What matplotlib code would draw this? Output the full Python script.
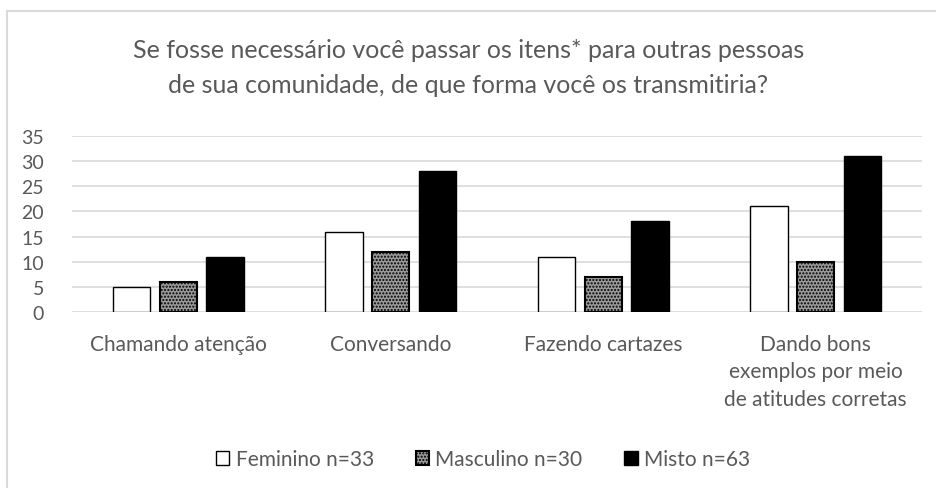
import numpy as np
import matplotlib.pyplot as plt
from matplotlib.patches import Rectangle

plt.rcParams['font.family'] = ['Lato', 'DejaVu Sans']

categorias = ['Chamando atenção', 'Conversando', 'Fazendo cartazes',
              'Dando bons\nexemplos por meio\nde atitudes corretas']
feminino = [5, 16, 11, 21]
masculino = [6, 12, 7, 10]
misto = [11, 28, 18, 31]
series = ['Feminino n=33', 'Masculino n=30', 'Misto n=63']

cinza = '#595959'

fig = plt.figure(figsize=(9.37, 4.89), dpi=100)
# moldura cinza clara do grafico
fig.patches.append(Rectangle((7/937, -0.1), 1.2, 1 - 12/489 + 0.1,
                             transform=fig.transFigure, fill=False,
                             edgecolor='#d9d9d9', linewidth=1.5))
ax = fig.add_axes([72/937, 1 - 313/489, 850/937, 176/489])

x = np.arange(len(categorias))
w = 0.175
d = 0.22
ax.bar(x - d, feminino, w, color='white', edgecolor='black', linewidth=1.0,
       label=series[0], zorder=3)
ax.bar(x, masculino, w, color='#9a9a9a', edgecolor='black', hatch='.....',
       linewidth=1.5, label=series[1], zorder=3)
ax.bar(x + d, misto, w, color='black', edgecolor='black', linewidth=1.0,
       label=series[2], zorder=3)

ax.set_xlim(-0.5, len(categorias) - 0.5)
ax.set_ylim(0, 35)
ax.set_yticks(range(0, 36, 5))
ax.set_xticks(x)
ax.set_xticklabels(categorias, fontsize=15, color=cinza, va='top',
                   linespacing=1.45)
ax.tick_params(axis='x', length=0, pad=16)
ax.tick_params(axis='y', length=0, pad=20, labelsize=14, labelcolor=cinza)
ax.grid(axis='y', color='#d9d9d9', linewidth=1.2, zorder=0)
for s in ax.spines.values():
    s.set_visible(False)

fig.text(0.5, 1 - 68/489, 'Se fosse necessário você passar os itens* para outras pessoas\n'
         'de sua comunidade, de que forma você os transmitiria?',
         ha='center', va='center', fontsize=18, color=cinza, linespacing=1.6)

fig.legend(loc='center', bbox_to_anchor=(483/937, 1 - 460/489), ncol=3,
           frameon=False, fontsize=15, labelcolor=cinza, handlelength=0.65,
           handleheight=0.65, handletextpad=0.3, columnspacing=2.0)

fig.savefig('out.png', dpi=100)
